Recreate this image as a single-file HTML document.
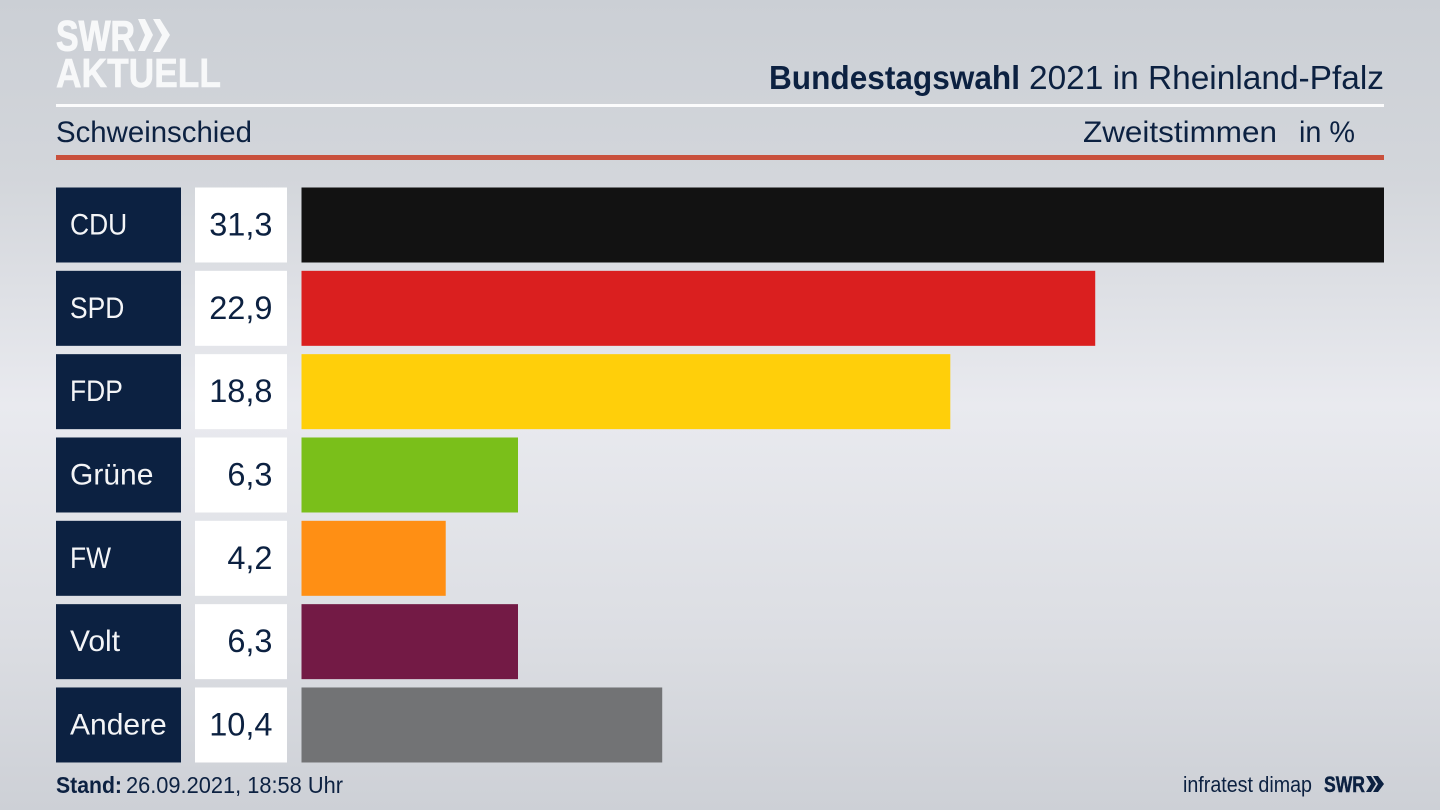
<!DOCTYPE html>
<html lang="de">
<head>
<meta charset="utf-8">
<title>Bundestagswahl 2021 in Rheinland-Pfalz</title>
<style>
html,body{margin:0;padding:0;width:1440px;height:810px;overflow:hidden;background:#dfe1e6}
svg{display:block}
text{font-family:"Liberation Sans",sans-serif;fill:#0c2141}
</style>
</head>
<body>
<svg id="chart" xmlns="http://www.w3.org/2000/svg" width="1440" height="810" viewBox="0 0 1440 810">
<defs>
<linearGradient id="bgv" x1="0" y1="0" x2="0" y2="1">
<stop offset="0" stop-color="#cbcfd5"/>
<stop offset="0.22" stop-color="#d3d6db"/>
<stop offset="0.5" stop-color="#e9eaef"/>
<stop offset="0.78" stop-color="#dcdee3"/>
<stop offset="1" stop-color="#cdd0d6"/>
</linearGradient>
</defs>
<rect width="1440" height="810" fill="url(#bgv)"/>

<g>
<text x="56" y="50.5" font-size="43" font-weight="700" textLength="79" lengthAdjust="spacingAndGlyphs" style="fill:#f7f8f9;stroke:#f7f8f9;stroke-width:1">SWR</text>
<polygon points="138,19 145,19 153,35 145,51 138,51 145,35" fill="#f7f8f9"/>
<polygon points="153,19 160,19 170,35 160,52 153,52 162,35" fill="#f7f8f9"/>
<text x="56" y="87" font-size="41" font-weight="700" textLength="165" lengthAdjust="spacingAndGlyphs" style="fill:#f7f8f9;stroke:#f7f8f9;stroke-width:0.6">AKTUELL</text>
</g>

<g>
<text x="769" y="89" font-size="33" font-weight="700" textLength="251" lengthAdjust="spacingAndGlyphs">Bundestagswahl</text>
<text x="1029" y="89" font-size="33" textLength="355" lengthAdjust="spacingAndGlyphs">2021 in Rheinland-Pfalz</text>
</g>
<rect x="56" y="104" width="1328" height="3" fill="#fbfbfc"/>
<text x="56" y="142" font-size="30" textLength="196" lengthAdjust="spacingAndGlyphs">Schweinschied</text>
<text x="1083" y="142" font-size="30" textLength="194" lengthAdjust="spacingAndGlyphs">Zweitstimmen</text>
<text x="1299" y="142" font-size="30" textLength="56" lengthAdjust="spacingAndGlyphs">in %</text>
<rect x="56" y="155" width="1328" height="5" fill="#c9503c"/>

<g id="rows"></g>

<g>
<text x="56" y="793" font-size="23" font-weight="700" textLength="66" lengthAdjust="spacingAndGlyphs">Stand:</text>
<text x="126" y="793" font-size="23" textLength="217" lengthAdjust="spacingAndGlyphs">26.09.2021, 18:58 Uhr</text>
</g>
<text x="1183" y="792" font-size="22" textLength="129" lengthAdjust="spacingAndGlyphs">infratest dimap</text>
<g>
<text x="1324" y="792" font-size="22" font-weight="700" textLength="41" lengthAdjust="spacingAndGlyphs" style="stroke:#0c2141;stroke-width:0.5">SWR</text>
<polygon points="1366,776 1371,776 1376,784 1371,792 1366,792 1371,784" fill="#0c2141"/>
<polygon points="1373,776 1378,776 1384,784 1378,792 1373,792 1378,784" fill="#0c2141"/>
</g>
</svg>
<script>
const parties = ["CDU", "SPD", "FDP", "Grüne", "FW", "Volt", "Andere"];
const shares = [31.3, 22.95, 18.76, 6.26, 4.17, 6.26, 10.43];
const shareLabels = ["31,3", "22,9", "18,8", "6,3", "4,2", "6,3", "10,4"];
const partyColors = ["#121212", "#da1f1f", "#ffcf0a", "#7abf1a", "#ff8f14", "#731a45", "#727375"];

const NS = "http://www.w3.org/2000/svg";
const rowsGroup = document.getElementById("rows");
const BAR_LEFT = 301.5;
const BAR_MAX_WIDTH = 1082.5;
const DOMAIN_MAX = 31.3;
const ROW_TOP = 187.5;
const ROW_STEP = 83.33;
const ROW_HEIGHT = 75;

function xScale(value) { return value / DOMAIN_MAX * BAR_MAX_WIDTH; }
function yScale(index) { return ROW_TOP + index * ROW_STEP; }

function make(tag, attrs, text) {
  const el = document.createElementNS(NS, tag);
  for (const key in attrs) el.setAttribute(key, attrs[key]);
  if (text !== undefined) el.textContent = text;
  return el;
}

parties.forEach(function (party, i) {
  const slug = party.toLowerCase().replace("ü", "ue");
  const y = yScale(i);

  const nameBox = make("rect", { x: 56, y: y, width: 125, height: ROW_HEIGHT, fill: "#0c2141" });
  
  
  rowsGroup.appendChild(nameBox);

  const nameText = make("text", { x: 70, y: y + 47, "font-size": 30, style: "fill:#f4f5f7" }, party);
  
  
  rowsGroup.appendChild(nameText);
  if (party === party.toUpperCase()) {
    nameText.setAttribute("lengthAdjust", "spacingAndGlyphs");
    nameText.setAttribute("textLength", nameText.getComputedTextLength() * 0.88);
  }

  const valueBox = make("rect", { x: 195, y: y, width: 92, height: ROW_HEIGHT, fill: "#ffffff" });
  
  
  rowsGroup.appendChild(valueBox);

  const valueText = make("text", { x: 272.5, y: y + 48, "font-size": 32.5, "text-anchor": "end" }, shareLabels[i]);
  
  
  rowsGroup.appendChild(valueText);

  const bar = make("rect", { x: BAR_LEFT, y: y, width: xScale(shares[i]), height: ROW_HEIGHT, fill: partyColors[i] });
  
  
  rowsGroup.appendChild(bar);
});
</script>
</body>
</html>
